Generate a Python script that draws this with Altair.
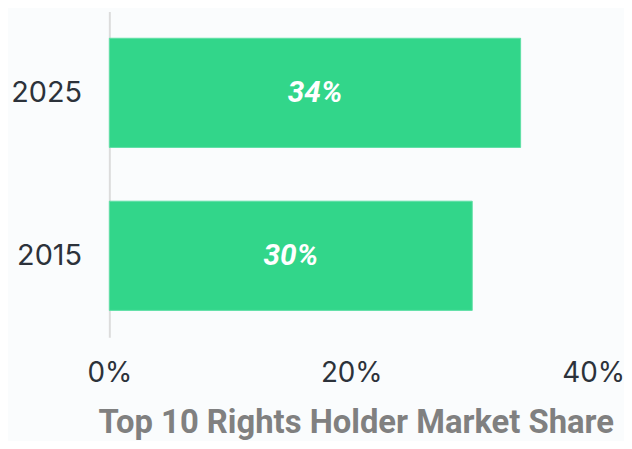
import altair as alt
import pandas as pd

years = ["2025", "2015"]
shares = [34, 30]
labels = ["34%", "30%"]

df = pd.DataFrame({"year": years, "share": shares, "label": labels})

LABEL_FONT = "Inter"
TITLE_FONT = "Roboto"

base = alt.Chart(df)

bars = base.mark_bar(color="#32d68a", stroke="#5fe0a6", strokeWidth=1).encode(
    y=alt.Y(
        "year:N",
        sort=years,
        scale=alt.Scale(paddingInner=0.33, paddingOuter=0.165),
        axis=alt.Axis(
            title=None,
            labelFont=LABEL_FONT,
            labelFontSize=29,
            labelColor="#2c323a",
            labelPadding=28,
            ticks=False,
            domain=True,
            domainColor="#dcdcdc",
            domainWidth=2,
            grid=False,
        ),
    ),
    x=alt.X(
        "share:Q",
        scale=alt.Scale(domain=[0, 40], nice=False),
        axis=alt.Axis(
            values=[0, 20, 40],
            labelExpr="datum.value + '%'",
            labelFont=LABEL_FONT,
            labelFontSize=28,
            labelColor="#2c323a",
            labelPadding=23,
            labelFlush=False,
            ticks=False,
            domain=False,
            grid=False,
            title="Top 10 Rights Holder Market Share",
            titleFont=TITLE_FONT,
            titleFontSize=33,
            titleFontWeight="bold",
            titleColor="#808080",
            titlePadding=19,
            titleX=248,
        ),
    ),
)

text = base.transform_calculate(mid="datum.share / 2").mark_text(
    color="white",
    font=TITLE_FONT,
    fontSize=30,
    fontWeight="bold",
    fontStyle="italic",
    align="center",
    baseline="middle",
).encode(
    y=alt.Y("year:N", sort=years),
    x=alt.X("mid:Q"),
    text="label:N",
)

chart = (
    alt.layer(bars, text)
    .properties(
        width=487,
        height=328,
        background="#fafcfd",
        padding={"left": 102, "top": 2, "right": 31, "bottom": 103},
        autosize=alt.AutoSizeParams(type="none"),
    )
    .configure_view(stroke=None)
)

chart.save("out.html", embed_options={"renderer": "svg", "actions": False})
